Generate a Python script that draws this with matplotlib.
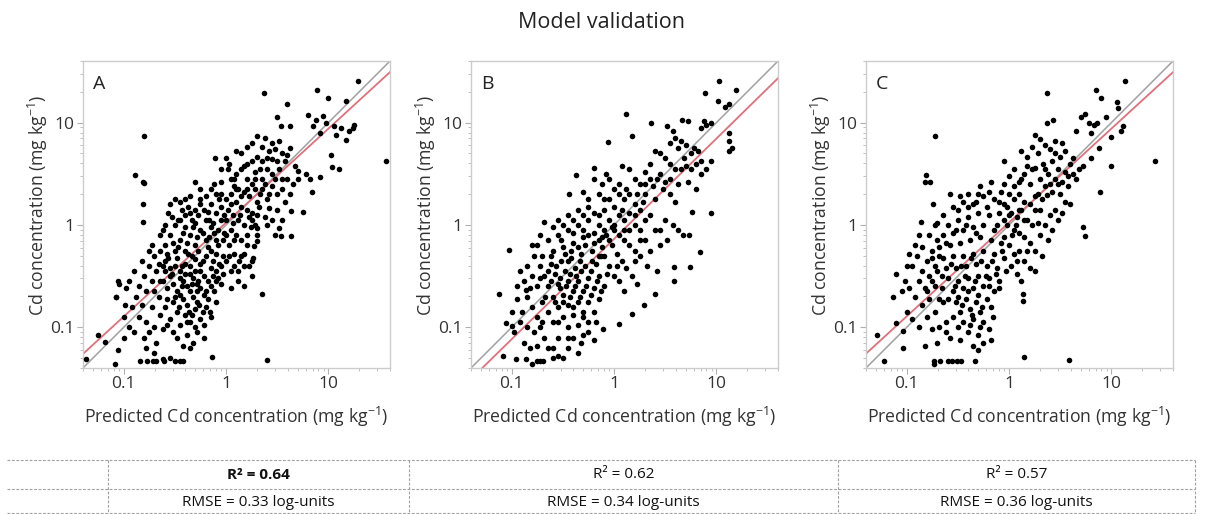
import matplotlib.pyplot as plt
from matplotlib.lines import Line2D
from matplotlib.ticker import FixedLocator, NullFormatter
import numpy as np

plt.rcParams['font.family'] = ['Open Sans', 'DejaVu Sans']
plt.rcParams['mathtext.fontset'] = 'custom'
plt.rcParams['mathtext.rm'] = 'Open Sans'
plt.rcParams['mathtext.it'] = 'Open Sans:italic'
plt.rcParams['mathtext.bf'] = 'Open Sans:bold'

a_points = [
    (0.37, 1.29), (1.29, 1.41), (0.89, 1.32), (1.00, 1.24), (1.17, 1.21), (0.60, 1.18), (0.50, 1.05), (0.54, 0.97),
    (0.62, 0.97), (0.80, 1.07), (0.85, 0.97), (0.88, 1.03), (0.95, 1.06), (0.92, 0.90), (1.07, 0.88), (1.17, 0.83),
    (1.12, 0.95), (1.25, 0.98), (1.24, 0.95), (1.20, 0.92), (0.98, 1.00), (1.05, 0.97), (1.56, 0.62), (1.03, 0.68),
    (1.04, 0.57), (1.10, 0.55), (0.84, 0.32), (0.75, 0.13), (0.63, -0.11), (0.52, -0.03), (0.35, -0.67), (0.40, -1.32),
    (-0.14, -1.29),
    (0.30, 0.87), (0.38, 0.85), (0.25, 0.80), (0.20, 0.76), (0.10, 0.72), (0.15, 0.70), (0.35, 0.76), (0.42, 0.72),
    (0.48, 0.74), (0.55, 0.70), (0.60, 0.68), (0.62, 0.75), (0.50, 0.62), (0.45, 0.64), (0.40, 0.65), (0.30, 0.66),
    (0.58, 0.62), (0.33, 0.55), (0.28, 0.52), (0.40, 0.55), (0.45, 0.50), (0.52, 0.55), (0.67, 0.58), (0.70, 0.53),
    (0.78, 0.50), (0.82, 0.45), (0.92, 0.47), (0.70, 0.45), (0.60, 0.45), (0.65, 0.40), (0.35, 0.45), (0.38, 0.40),
    (0.45, 0.38), (0.55, 0.35), (0.50, 0.30), (0.62, 0.30), (0.58, 0.22), (0.40, 0.25), (0.33, 0.30), (0.42, 0.17),
    (0.50, 0.15), (0.63, 0.14), (-0.11, 0.65), (0.03, 0.60), (-0.05, 0.55),
    (0.00, 0.65), (0.02, 0.55), (0.05, 0.45), (0.10, 0.50), (0.15, 0.55), (0.20, 0.45), (0.25, 0.40), (0.08, 0.38),
    (0.12, 0.35), (0.18, 0.32), (0.22, 0.28), (0.28, 0.35), (0.05, 0.30), (0.00, 0.25), (0.10, 0.22), (0.15, 0.18),
    (0.20, 0.15), (0.25, 0.12), (0.30, 0.10), (0.02, 0.15), (0.07, 0.10), (0.12, 0.05), (0.18, 0.00), (0.24, -0.02),
    (0.28, 0.00), (0.05, -0.05), (0.10, -0.10), (0.15, -0.15), (0.20, -0.20), (0.25, -0.35), (0.30, -0.10), (0.00, -0.10),
    (0.03, -0.20), (0.08, -0.28), (0.13, -0.35), (0.18, -0.40), (0.00, -0.35), (0.05, -0.45), (0.30, -0.03), (0.27, -0.21),
    (0.22, -0.40),
    (-0.55, 0.20), (-0.50, 0.25), (-0.45, 0.22), (-0.40, 0.10), (-0.35, 0.28), (-0.30, 0.15), (-0.25, 0.25), (-0.20, 0.28),
    (-0.15, 0.20), (-0.10, 0.30), (-0.05, 0.18), (-0.10, 0.12), (-0.20, 0.05), (-0.30, 0.02), (-0.40, -0.02), (-0.50, 0.00),
    (-0.55, -0.10), (-0.45, -0.15), (-0.35, -0.10), (-0.25, -0.05), (-0.15, -0.02), (-0.05, 0.05), (-0.60, -0.20), (-0.50, -0.25),
    (-0.40, -0.25), (-0.30, -0.20), (-0.20, -0.15), (-0.10, -0.15), (-0.02, -0.08), (-0.60, -0.35), (-0.50, -0.40), (-0.40, -0.38),
    (-0.30, -0.33), (-0.20, -0.30), (-0.10, -0.28), (-0.05, -0.40), (-0.55, -0.50), (-0.45, -0.52), (-0.35, -0.48), (-0.25, -0.45),
    (-0.15, -0.42), (-0.58, -0.62), (-0.48, -0.65), (-0.38, -0.60), (-0.28, -0.58), (-0.18, -0.55), (-0.08, -0.52), (-0.52, -0.75),
    (-0.42, -0.72), (-0.32, -0.70), (-0.22, -0.68), (-0.12, -0.65), (-0.48, -0.85), (-0.40, -0.88), (-0.30, -0.82), (-0.20, -0.80),
    (-0.45, -0.98), (-0.35, -0.95), (-0.25, -0.92), (-0.38, -1.08), (-0.28, -1.05), (-0.42, -1.18), (-0.32, -1.15), (-0.52, -1.05),
    (-0.55, -0.92), (-0.33, -0.30), (-0.27, -0.55), (-0.43, -0.40), (-0.12, 0.40), (-0.25, 0.35), (-0.40, 0.25), (-0.05, 0.42),
    (-0.30, 0.42), (-0.15, -0.25), (-0.08, -0.05), (-0.18, 0.13),
    (-0.57, 0.12), (-0.47, 0.05), (-0.37, 0.18), (-0.27, 0.10), (-0.17, 0.05), (-0.07, 0.25), (-0.52, -0.18), (-0.42, -0.08),
    (-0.32, -0.02), (-0.22, 0.15), (-0.12, -0.08), (-0.02, 0.10), (-0.58, -0.28), (-0.48, -0.32), (-0.38, -0.18), (-0.28, -0.12),
    (-0.18, -0.22), (-0.08, -0.20), (-0.55, -0.42), (-0.45, -0.45), (-0.35, -0.40), (-0.25, -0.38), (-0.13, -0.35), (-0.03, -0.30),
    (-0.52, -0.58), (-0.42, -0.55), (-0.32, -0.52), (-0.22, -0.50), (-0.10, -0.45), (-0.45, -0.68), (-0.35, -0.65), (-0.25, -0.62),
    (-0.15, -0.60), (-0.05, -0.58), (-0.38, -0.78), (-0.28, -0.75), (-0.18, -0.72), (-0.33, -0.88), (-0.23, -0.85), (-0.30, -1.00),
    (-0.22, -0.98), (-0.15, -0.90), (-0.10, -0.75), (0.05, -0.62), (0.12, -0.55), (0.18, -0.60), (0.25, -0.50), (0.08, -0.40),
    (0.15, -0.30), (0.20, -0.10), (0.25, 0.05), (0.32, 0.18), (0.38, 0.08), (0.45, 0.05), (0.48, -0.10), (0.55, 0.05),
    (0.15, 0.28), (0.08, 0.45), (0.18, 0.58), (0.25, 0.62), (0.40, 0.00), (0.30, -0.16), (0.26, -0.32), (0.54, -0.11),
    (-0.62, -0.05), (-0.53, 0.08), (-0.43, 0.15), (-0.33, 0.05), (-0.23, -0.08), (-0.13, 0.02), (-0.03, -0.15), (0.07, 0.02),
    (-0.57, -0.32), (-0.47, -0.22), (-0.37, -0.28), (-0.27, -0.25), (-0.17, -0.12), (-0.07, -0.38), (0.03, -0.30),
    (-0.53, -0.48), (-0.43, -0.60), (-0.33, -0.58), (-0.23, -0.35), (-0.13, -0.50), (-0.03, -0.48),
    (-0.50, -0.70), (-0.40, -0.48), (-0.30, -0.45), (-0.20, -0.65), (-0.10, -0.55),
    (-0.46, -0.80), (-0.36, -0.85), (-0.26, -0.78), (-0.16, -0.85),
    (-0.60, -0.45), (-0.65, -0.55), (-0.70, -0.65), (-0.58, -0.72), (-0.66, -0.38),
    (-0.45, 0.05), (-0.35, 0.12), (-0.25, 0.20), (-0.15, 0.35), (-0.05, 0.30), (0.05, 0.20), (0.10, 0.35), (0.20, 0.35),
    (-0.28, -0.65), (-0.38, -0.95), (-0.48, -1.10), (-0.35, -1.20), (-0.22, -1.10), (-0.58, -0.98),
    (0.00, 0.05), (0.08, -0.15), (0.14, 0.10), (0.22, 0.08), (0.18, -0.28), (0.12, -0.45), (0.35, 0.35), (0.42, 0.30),
    (0.30, 0.22), (0.48, 0.45), (0.55, 0.45), (0.52, 0.82), (0.45, 0.80), (0.20, 0.60), (0.28, 0.45), (0.35, 0.62),
    (-0.95, -0.55), (-0.90, -0.45), (-0.85, -0.60), (-0.80, -0.50), (-0.75, -0.40), (-0.70, -0.30), (-0.65, -0.25), (-0.88, -0.70),
    (-0.82, -0.78), (-0.78, -0.65), (-0.72, -0.55), (-0.68, -0.45), (-0.62, -0.40), (-0.85, -0.90), (-0.78, -0.95), (-0.72, -0.80),
    (-0.66, -0.70), (-0.92, -0.80), (-0.98, -0.62), (-1.05, -0.58), (-1.08, -0.70), (-0.75, -1.05), (-0.70, -1.00), (-0.65, -0.88),
    (-0.80, -1.10), (-0.68, -1.15), (-0.62, -1.02), (-0.60, -0.80), (-0.90, -1.05), (-0.95, -1.00), (-1.00, -0.90), (-0.82, -0.35),
    (-0.72, -0.20), (-0.65, -0.10), (-0.60, 0.00), (-0.75, -0.25), (-0.62, -0.55), (-0.78, -1.20), (-0.70, -1.25),
    (-0.84, -1.33), (-0.77, -1.33), (-0.71, -1.33), (-0.68, -1.33), (-0.61, -1.33), (-0.50, -1.33), (-0.45, -1.33), (-0.42, -1.33),
    (-0.55, -1.30), (-0.62, -1.31),
    (-1.37, -1.31), (-1.09, -1.36), (-1.25, -1.08), (-1.18, -1.14), (-1.06, -1.22), (-1.00, -1.10), (-1.06, -0.55), (-1.08, -0.70),
    (-0.99, -0.78),
    (-0.80, 0.87), (-0.89, 0.49), (-0.81, 0.42), (-0.80, 0.41), (-0.81, 0.20), (-0.81, 0.03),
]

b_points = [
    (1.03, 1.41), (1.19, 1.32), (0.89, 1.29), (1.02, 1.21), (1.12, 1.18), (1.08, 1.15), (1.12, 0.90), (0.95, 1.00),
    (0.90, 0.98), (0.85, 0.95), (0.88, 1.02), (0.72, 1.02), (0.66, 1.03), (0.52, 0.97), (0.36, 1.00), (0.12, 1.08),
    (0.18, 0.87), (-0.06, 0.81), (0.58, 0.92), (0.60, 0.85), (0.65, 0.82), (0.70, 0.78), (0.78, 0.75), (0.82, 0.72),
    (0.75, 0.70), (0.62, 0.75), (0.55, 0.80), (1.12, 0.72), (1.12, 0.82), (1.15, 0.75), (0.95, 0.62), (0.90, 0.55),
    (0.85, 0.50), (0.80, 0.60), (0.70, 0.58), (0.65, 0.55), (0.55, 0.60), (0.50, 0.65), (0.45, 0.70), (0.40, 0.72),
    (0.35, 0.60), (0.30, 0.52), (0.95, 0.12), (0.84, -0.26), (0.74, -0.41), (0.59, -0.41), (0.59, -0.55), (0.40, -0.67),
    (0.29, -0.78), (0.18, -0.87), (0.05, -0.97), (-0.11, -1.02), (0.67, -0.10), (0.73, -0.10), (0.76, 0.13), (0.55, 0.30),
    (0.60, 0.22), (0.50, 0.42), (0.42, 0.45), (0.48, 0.35), (0.38, 0.38), (0.62, 0.40), (0.72, 0.42), (0.80, 0.35),
    (0.58, 0.00), (0.62, -0.05), (0.50, 0.05), (0.52, -0.15), (0.45, -0.20), (0.40, -0.05), (0.35, -0.25), (0.42, -0.45),
    (0.30, 0.30), (0.25, 0.40), (0.20, 0.45), (0.15, 0.55), (0.08, 0.58),
    (0.00, 0.35), (0.05, 0.30), (0.10, 0.25), (0.15, 0.30), (0.20, 0.20), (0.25, 0.15), (-0.05, 0.25), (0.00, 0.18),
    (0.05, 0.10), (0.10, 0.05), (0.15, 0.12), (0.20, 0.00), (0.25, -0.05), (0.30, 0.05), (-0.10, 0.15), (-0.05, 0.05),
    (0.00, -0.05), (0.05, -0.10), (0.10, -0.15), (0.15, -0.20), (0.20, -0.25), (0.25, -0.30), (-0.08, -0.10), (-0.02, -0.20),
    (0.03, -0.28), (0.08, -0.35), (0.12, -0.42), (0.18, -0.50), (0.22, -0.58), (-0.05, -0.40), (0.00, -0.50), (0.05, -0.55),
    (0.10, -0.65), (-0.10, -0.30), (-0.15, 0.00), (-0.15, -0.15), (0.30, -0.15), (0.28, 0.22), (-0.20, 0.45), (-0.12, 0.40),
    (-0.08, 0.50), (-0.37, 0.49), (-0.20, 0.56), (-0.44, 0.30), (-0.30, 0.32), (-0.25, 0.25), (-0.15, 0.30), (-0.05, 0.45),
    (-0.75, -0.20), (-0.65, -0.15), (-0.55, -0.10), (-0.45, -0.05), (-0.35, 0.00), (-0.25, 0.05), (-0.15, 0.10), (-0.70, -0.30),
    (-0.60, -0.25), (-0.50, -0.22), (-0.40, -0.18), (-0.30, -0.12), (-0.20, -0.08), (-0.72, -0.40), (-0.62, -0.38), (-0.52, -0.35),
    (-0.42, -0.32), (-0.32, -0.28), (-0.22, -0.25), (-0.12, -0.22), (-0.68, -0.50), (-0.58, -0.48), (-0.48, -0.45), (-0.38, -0.42),
    (-0.28, -0.40), (-0.18, -0.38), (-0.65, -0.60), (-0.55, -0.58), (-0.45, -0.55), (-0.35, -0.55), (-0.25, -0.52), (-0.15, -0.50),
    (-0.60, -0.70), (-0.50, -0.68), (-0.40, -0.65), (-0.30, -0.65), (-0.20, -0.62), (-0.10, -0.60), (-0.55, -0.80), (-0.45, -0.78),
    (-0.35, -0.75), (-0.25, -0.75), (-0.15, -0.72), (-0.50, -0.90), (-0.40, -0.88), (-0.30, -0.85), (-0.20, -0.85), (-0.45, -1.00),
    (-0.35, -0.98), (-0.25, -0.95), (-0.40, -1.10), (-0.30, -1.08), (-0.20, -1.12), (-0.45, -1.20), (-0.35, -1.25), (-0.55, -1.10),
    (-0.60, -0.95), (-0.65, -0.85), (-0.70, -0.75), (-0.75, -0.60), (-0.80, -0.50), (-0.85, -0.40), (-0.78, -0.30), (-0.55, 0.05),
    (-0.45, 0.10), (-0.35, 0.15), (-0.25, 0.18), (-0.60, -0.02), (-0.50, 0.00), (-0.40, -0.08), (-0.30, -0.05), (-0.20, -0.18),
    (-0.10, -0.05), (-0.65, -0.45), (-0.53, -0.62), (-0.43, -0.48), (-0.33, -0.35), (-0.23, -0.45), (-0.13, -0.30), (-0.48, -0.28),
    (-0.38, -0.60), (-0.28, -0.20), (-0.58, -0.75), (-0.18, -0.95),
    (-0.62, -0.30), (-0.52, -0.15), (-0.42, -0.25), (-0.32, -0.45), (-0.22, -0.35), (-0.12, -0.12), (-0.02, -0.02), (0.08, 0.15),
    (-0.57, -0.40), (-0.47, -0.60), (-0.37, -0.50), (-0.27, -0.60), (-0.17, -0.55), (-0.07, -0.48), (0.03, -0.40),
    (-0.53, -0.52), (-0.43, -0.70), (-0.33, -0.70), (-0.23, -0.68), (-0.13, -0.65), (-0.50, -0.75), (-0.40, -0.80), (-0.30, -0.90),
    (-0.62, -0.55), (-0.67, -0.70), (-0.72, -0.52), (-0.45, -0.35), (-0.35, -0.22), (-0.25, -0.10), (-0.15, -0.30), (-0.05, -0.15),
    (-0.40, 0.05), (-0.30, 0.10), (-0.20, 0.12), (-0.10, 0.25), (0.00, 0.00), (0.10, -0.05), (0.15, -0.05), (0.20, 0.10),
    (-0.55, -0.95), (-0.45, -1.10), (-0.32, -1.15), (-0.25, -1.05), (-0.60, -1.20),
    (0.05, 0.40), (0.12, 0.35), (0.22, 0.30), (0.30, 0.40), (0.35, 0.45), (0.40, 0.25), (0.45, 0.50), (0.55, 0.45),
    (0.60, 0.55), (0.68, 0.65), (0.75, 0.55), (0.85, 0.62), (0.20, -0.35), (0.25, -0.15), (0.32, -0.40), (0.35, 0.10),
    (0.45, -0.05),
    (-0.85, -0.70), (-0.80, -0.80), (-0.75, -0.90), (-0.88, -0.55), (-0.82, -0.62), (-0.90, -0.85), (-0.85, -1.00), (-0.78, -1.05),
    (-0.72, -1.00), (-0.68, -1.10), (-0.75, -1.18), (-0.95, -0.72), (-1.00, -0.85), (-0.92, -0.95), (-0.98, -1.05), (-0.88, -1.15),
    (-0.82, -1.20), (-0.65, -1.20), (-0.70, -0.95), (-1.12, -0.67), (-1.03, -0.24), (-1.06, -0.96), (-1.00, -0.99), (-0.86, -0.64),
    (-0.68, 0.03), (-0.92, -0.45), (-0.80, -0.20), (-0.72, -0.10), (-0.95, -0.60),
    (-1.09, -1.28), (-0.96, -1.31), (-0.86, -1.31), (-0.80, -1.36), (-0.75, -1.33), (-0.72, -1.33), (-0.69, -1.33), (-0.60, -1.30),
    (-0.55, -1.28), (-0.50, -1.30),
]

c_points = [
    (0.37, 1.29), (1.13, 1.41), (0.85, 1.32), (0.90, 1.24), (1.05, 1.20), (1.06, 1.14), (0.43, 1.03), (0.37, 1.00),
    (0.74, 1.08), (0.78, 1.00), (0.83, 0.98), (0.86, 1.00), (0.70, 1.05), (0.95, 1.05), (1.09, 0.92), (1.11, 0.97),
    (1.00, 0.86), (0.80, 0.90), (0.65, 0.92), (1.43, 0.62), (1.00, 0.58), (0.89, 0.32), (0.74, -0.11), (0.72, -0.02),
    (0.14, -0.67), (0.14, -0.74), (0.59, -1.32), (0.15, -1.29), (-0.18, -1.12), (0.37, 0.29), (0.88, 0.75), (0.80, 0.65),
    (0.72, 0.58),
    (0.25, 0.88), (0.30, 0.84), (0.22, 0.76), (0.35, 0.78), (0.40, 0.74), (0.45, 0.70), (0.12, 0.72), (0.18, 0.66),
    (0.28, 0.70), (0.50, 0.66), (0.55, 0.72), (0.60, 0.60), (0.42, 0.62), (0.33, 0.60), (0.25, 0.56), (0.48, 0.55),
    (0.55, 0.52), (0.62, 0.50), (0.38, 0.50), (0.30, 0.45), (0.45, 0.45), (0.52, 0.42), (0.58, 0.38), (0.65, 0.45),
    (0.68, 0.55), (0.35, 0.38), (0.42, 0.32), (0.50, 0.30), (0.55, 0.22), (0.28, 0.30), (0.20, 0.40), (0.15, 0.50),
    (0.05, 0.55), (-0.05, 0.62), (0.00, 0.48), (0.10, 0.42), (0.45, 0.15), (0.52, 0.12), (0.60, 0.20), (0.48, 0.05),
    (0.40, 0.10), (0.30, 0.15),
    (0.00, 0.30), (0.05, 0.25), (0.10, 0.30), (0.15, 0.22), (0.20, 0.20), (0.25, 0.15), (-0.05, 0.20), (0.02, 0.12),
    (0.08, 0.08), (0.12, 0.15), (0.18, 0.05), (0.22, 0.00), (0.28, 0.02), (-0.02, 0.00), (0.05, -0.05), (0.10, -0.08),
    (0.15, -0.12), (0.20, -0.18), (0.25, -0.25), (0.30, -0.10), (-0.05, -0.12), (0.00, -0.20), (0.05, -0.28), (0.10, -0.25),
    (0.15, -0.35), (0.20, -0.42), (0.02, -0.40), (0.08, -0.48), (0.12, -0.55), (0.25, -0.45), (0.32, -0.30), (0.38, -0.15),
    (0.42, -0.05), (0.35, 0.00),
    (-0.65, 0.10), (-0.55, 0.18), (-0.45, 0.22), (-0.35, 0.20), (-0.25, 0.28), (-0.15, 0.25), (-0.08, 0.32), (-0.60, 0.00),
    (-0.50, 0.05), (-0.40, 0.08), (-0.30, 0.12), (-0.20, 0.10), (-0.10, 0.12), (-0.65, -0.10), (-0.55, -0.08), (-0.45, -0.05),
    (-0.35, -0.02), (-0.25, 0.00), (-0.15, -0.05), (-0.05, 0.05), (-0.68, -0.22), (-0.58, -0.20), (-0.48, -0.18), (-0.38, -0.15),
    (-0.28, -0.12), (-0.18, -0.15), (-0.08, -0.18), (-0.65, -0.32), (-0.55, -0.30), (-0.45, -0.30), (-0.35, -0.28), (-0.25, -0.25),
    (-0.15, -0.28), (-0.05, -0.32), (-0.62, -0.42), (-0.52, -0.42), (-0.42, -0.40), (-0.32, -0.38), (-0.22, -0.40), (-0.12, -0.42),
    (-0.60, -0.52), (-0.50, -0.55), (-0.40, -0.52), (-0.30, -0.50), (-0.20, -0.52), (-0.10, -0.55), (-0.55, -0.65), (-0.45, -0.62),
    (-0.35, -0.62), (-0.25, -0.60), (-0.15, -0.65), (-0.52, -0.75), (-0.42, -0.72), (-0.32, -0.75), (-0.22, -0.72), (-0.48, -0.85),
    (-0.38, -0.82), (-0.28, -0.85), (-0.18, -0.80), (-0.45, -0.95), (-0.35, -0.92), (-0.25, -0.95), (-0.40, -1.05), (-0.30, -1.08),
    (-0.20, -1.02), (-0.35, -1.18), (-0.25, -1.15), (-0.50, -1.00), (-0.55, -0.90), (-0.40, 0.30), (-0.28, 0.38), (-0.18, 0.42),
    (-0.10, 0.22), (-0.32, 0.22), (-0.48, 0.28), (-0.58, 0.30), (-0.70, 0.02),
    (-0.62, -0.18), (-0.52, -0.05), (-0.42, 0.00), (-0.32, -0.08), (-0.22, 0.18), (-0.12, 0.00), (-0.02, 0.18), (0.07, 0.00),
    (-0.57, -0.38), (-0.47, -0.40), (-0.37, -0.32), (-0.27, -0.35), (-0.17, -0.35), (-0.07, -0.25), (0.03, -0.10),
    (-0.53, -0.60), (-0.43, -0.50), (-0.33, -0.55), (-0.23, -0.50), (-0.13, -0.48), (-0.03, -0.45),
    (-0.50, -0.70), (-0.40, -0.65), (-0.30, -0.68), (-0.20, -0.60), (-0.10, -0.62),
    (-0.46, -0.78), (-0.36, -0.88), (-0.26, -0.80), (-0.16, -0.90),
    (-0.70, -0.45), (-0.75, -0.55), (-0.80, -0.65), (-0.68, -0.72), (-0.75, -0.32),
    (-0.50, 0.15), (-0.40, 0.18), (-0.30, 0.30), (-0.20, 0.32), (-0.05, 0.40), (0.05, 0.38), (0.12, 0.45), (0.22, 0.55),
    (-0.28, -1.00), (-0.38, -0.98), (-0.48, -1.12), (-0.30, -1.22), (-0.62, -1.05),
    (0.00, 0.10), (0.10, 0.15), (0.15, 0.05), (0.25, 0.28), (0.18, -0.25), (0.08, -0.35), (0.35, 0.55), (0.40, 0.40),
    (0.32, 0.25), (0.48, 0.40), (0.58, 0.48), (0.52, 0.80), (0.45, 0.82), (0.18, 0.58), (0.62, 0.65),
    (-0.95, -0.40), (-0.90, -0.30), (-0.85, -0.45), (-0.80, -0.35), (-0.75, -0.25), (-0.70, -0.15), (-0.88, -0.55), (-0.82, -0.62),
    (-0.78, -0.50), (-0.72, -0.40), (-0.68, -0.30), (-0.92, -0.70), (-0.85, -0.78), (-0.78, -0.72), (-0.72, -0.60), (-0.66, -0.50),
    (-0.98, -0.62), (-1.02, -0.55), (-1.05, -0.65), (-1.10, -0.48), (-0.80, -0.90), (-0.72, -0.85), (-0.65, -0.75), (-0.75, -1.02),
    (-0.68, -1.00), (-0.62, -0.95), (-0.88, -1.00), (-0.95, -0.92), (-1.00, -0.85), (-0.85, -0.22), (-0.78, -0.10), (-0.72, 0.00),
    (-0.66, -0.62), (-0.60, -0.72), (-0.58, -1.10), (-0.70, -1.15), (-0.82, -1.18), (-1.13, -0.70), (-1.00, -0.40), (-0.92, -0.20),
    (-0.88, -0.10), (-0.98, -0.28),
    (-1.22, -1.33), (-0.73, -1.33), (-0.67, -1.33), (-0.60, -1.33), (-0.56, -1.33), (-0.51, -1.33), (-0.47, -1.33), (-0.33, -1.33),
    (-0.73, -1.36),
    (-1.29, -1.08), (-1.04, -1.04), (-1.04, -1.20), (-1.10, -0.96),
    (-0.72, 0.87), (-0.81, 0.49), (-0.77, 0.42), (-0.82, 0.42), (-0.74, 0.20), (-0.86, 0.03),
]

# regression line of measured on predicted (log10): slope, intercept
fits = [(0.918, 0.023), (0.98, -0.136), (0.917, 0.024)]
panel_letters = ['A', 'B', 'C']
r2_labels = ['R² = 0.64', 'R² = 0.62', 'R² = 0.57']
rmse_labels = ['RMSE = 0.33 log-units', 'RMSE = 0.34 log-units', 'RMSE = 0.36 log-units']

fig = plt.figure(figsize=(12.1, 5.14), dpi=100)
W, H = 1210, 514
lefts = [83, 471, 866]
ax_top, ax_size = 61, 307

lim = (0.04, 40)
major = [0.1, 1, 10]
minor = [m * 10.0 ** e for e in range(-2, 2) for m in range(2, 10)]

for i, pts in enumerate([a_points, b_points, c_points]):
    ax = fig.add_axes([lefts[i] / W, 1 - (ax_top + ax_size) / H, ax_size / W, ax_size / H])
    ax.set_xscale('log')
    ax.set_yscale('log')
    arr = np.array(pts)
    ax.scatter(10 ** arr[:, 0], 10 ** arr[:, 1], s=16, color='black', linewidths=0, zorder=3)
    xx = np.array(lim)
    ax.plot(xx, xx, color='#a0a0a0', lw=1.1, zorder=2)
    m, b = fits[i]
    ax.plot(xx, 10 ** b * xx ** m, color='#e0707a', lw=1.3, zorder=2)
    ax.set_xlim(lim)
    ax.set_ylim(lim)
    for axis in (ax.xaxis, ax.yaxis):
        axis.set_major_locator(FixedLocator(major))
        axis.set_minor_locator(FixedLocator(minor))
        axis.set_minor_formatter(NullFormatter())
    ax.set_xticklabels(['0.1', '1', '10'])
    ax.set_yticklabels(['0.1', '1', '10'])
    ax.tick_params(which='major', direction='out', length=4, width=0.8, color='#b0b0b0',
                   labelsize=12.5, labelcolor='#333333', pad=2)
    ax.tick_params(which='minor', direction='out', length=2.5, width=0.7, color='#c0c0c0')
    for sp in ax.spines.values():
        sp.set_color('#cccccc')
        sp.set_linewidth(1.0)
    ax.text(0.033, 0.955, panel_letters[i], transform=ax.transAxes, ha='left', va='top',
            fontsize=14, color='#222222')
    ax.text(0.5, -0.16, r'Predicted Cd concentration (mg kg$^{-1}$)', transform=ax.transAxes,
            ha='center', va='center', fontsize=12.7, color='#333333')
    ax.text(-0.148, 0.53, r'Cd concentration (mg kg$^{-1}$)', transform=ax.transAxes,
            ha='center', va='center', rotation=90, fontsize=12.7, color='#333333')

fig.text(602 / W, 1 - 22 / H, 'Model validation', ha='center', va='center', fontsize=15.5, color='#222222')

# summary table below the panels
dash = dict(color='#a0a0a0', lw=0.8, linestyle=(0, (2.5, 1.5)))
for yy in [460, 489, 513]:
    fig.add_artist(Line2D([7 / W, 1195 / W], [1 - yy / H] * 2, **dash))
cols = [108, 409, 838, 1195]
for xx in cols:
    fig.add_artist(Line2D([xx / W] * 2, [1 - 460 / H, 1 - 513 / H], **dash))
for i in range(3):
    cx = (cols[i] + cols[i + 1]) / 2 / W
    fig.text(cx, 1 - 475 / H, r2_labels[i], ha='center', va='center', fontsize=11,
             fontweight='bold' if i == 0 else 'normal', color='#111111')
    fig.text(cx, 1 - 502 / H, rmse_labels[i], ha='center', va='center', fontsize=11, color='#111111')

fig.savefig('out.png', dpi=100)
